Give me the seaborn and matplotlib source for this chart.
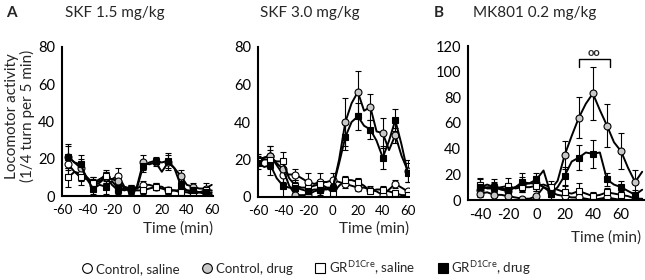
import numpy as np
import pandas as pd
import seaborn as sns
import matplotlib.pyplot as plt
from matplotlib.lines import Line2D

# time points (5-min bins)
time_a1 = list(range(-55, 61, 5))
time_a2 = list(range(-60, 61, 5))
time_b = list(range(-40, 76, 5))

groups = ['Control, saline', 'Control, drug', 'GR saline', 'GR drug']

# SKF 1.5 mg/kg
a1_ctrl_sal = [17, 13, 12, 10, 6, 7, 10, 9, 11, 5, 4, 4, 6, 6, 5, 5, 3, 3, 3, 3, 2, 2, 1, 2]
a1_ctrl_drug = [21, 18, 15, 10, 7, 8, 10, 9, 8, 4, 3, 5, 18, 17, 18, 13, 18, 15, 11, 6, 5, 4, 4, 6]
a1_gr_sal = [10, 13, 10, 9, 7, 9, 11, 6, 3, 4, 3, 3, 3, 4, 5, 4, 3, 3, 2, 2, 1, 2, 3, 3]
a1_gr_drug = [21, 18, 17, 9, 4, 6, 5, 8, 4, 3, 4, 4, 16, 18, 19, 18, 19, 15, 6, 3, 3, 2, 2, 1]
a1_err = {
    'Control, saline': [5, 4, 3, 3, 4, 2, 2, 2, 2, 2, 1, 2],
    'Control, drug': [6, 5, 3, 3, 4, 2, 4, 2, 4, 3, 2, 3],
    'GR saline': [5, 4, 3, 3, 3, 2, 2, 2, 2, 2, 1, 2],
    'GR drug': [7, 5, 3, 4, 3, 2, 3, 2, 4, 3, 2, 2],
}

# SKF 3.0 mg/kg
a2_ctrl_sal = [20, 21, 22, 17, 12, 12, 12, 10, 8, 7, 8, 8, 9, 8, 7, 6, 5, 5, 4, 3, 1, 4, 7, 5, 3]
a2_ctrl_drug = [20, 21, 22, 18, 15, 6, 1, 1, 1, 3, 4, 4, 5, 20, 40, 50, 56, 46, 48, 35, 34, 25, 33, 22, 14]
a2_gr_sal = [19, 20, 20, 19, 19, 10, 6, 5, 5, 6, 7, 5, 2, 6, 9, 9, 8, 6, 3, 4, 4, 3, 2, 1, 1]
a2_gr_drug = [18, 16, 17, 10, 6, 5, 5, 4, 3, 4, 4, 5, 5, 18, 32, 40, 43, 38, 36, 30, 21, 30, 41, 28, 13]
a2_err = {
    'Control, saline': [2, 5, 4, 3, 5, 5, 4, 2, 2, 2, 3, 2, 1],
    'Control, drug': [3, 5, 4, 2, 1, 1, 2, 13, 11, 7, 8, 4, 6],
    'GR saline': [2, 5, 5, 3, 2, 2, 2, 2, 2, 1, 2, 1, 1],
    'GR drug': [3, 5, 6, 3, 3, 3, 3, 7, 7, 5, 6, 6, 5],
}

# MK801 0.2 mg/kg
b_ctrl_sal = [8, 10, 10, 8, 7, 10, 12, 13, 13, 10, 6, 4, 3, 2, 2, 1, 0, 1, 2, 1, 0, 0, 0, 0]
b_ctrl_drug = [5, 6, 4, 4, 3, 2, 1, 1, 3, 10, 8, 15, 35, 50, 64, 75, 83, 70, 58, 45, 38, 25, 14, 22]
b_gr_sal = [12, 9, 9, 10, 11, 9, 10, 10, 11, 12, 10, 8, 6, 5, 7, 5, 3, 4, 6, 5, 4, 3, 1, 1]
b_gr_drug = [10, 12, 10, 9, 8, 10, 14, 13, 16, 23, 5, 10, 19, 30, 33, 37, 36, 37, 16, 12, 10, 7, 4, 8]
b_err = {
    'Control, saline': [5, 4, 4, 6, 6, 4, 3, 3, 3, 2, 2, 1],
    'Control, drug': [3, 2, 3, 1, 2, 3, 11, 16, 21, 17, 14, 9],
    'GR saline': [5, 4, 6, 4, 4, 5, 5, 6, 3, 3, 3, 2],
    'GR drug': [6, 6, 5, 7, 5, 4, 7, 10, 11, 5, 5, 4],
}

styles = {
    'Control, saline': dict(marker='o', mfc='white'),
    'Control, drug': dict(marker='o', mfc='#c8c8c8'),
    'GR saline': dict(marker='s', mfc='white'),
    'GR drug': dict(marker='s', mfc='black'),
}


def make_df(t, series):
    rows = []
    for g, vals in zip(groups, series):
        for x, v in zip(t, vals):
            rows.append((x, v, g))
    return pd.DataFrame(rows, columns=['time', 'activity', 'group'])


sns.set_style('white')
plt.rcParams['font.family'] = ['Lato', 'DejaVu Sans']
plt.rcParams['axes.unicode_minus'] = False
plt.rcParams['mathtext.fontset'] = 'custom'
plt.rcParams['mathtext.rm'] = 'Lato'

fig = plt.figure(figsize=(6.45, 2.8), dpi=100)
W, H = 645, 280
FS = 11


def add_ax(l, r, top, bot):
    return fig.add_axes([l / W, 1 - bot / H, (r - l) / W, (bot - top) / H])


panels = [
    (add_ax(62, 213, 47, 196), make_df(time_a1, [a1_ctrl_sal, a1_ctrl_drug, a1_gr_sal, a1_gr_drug]), a1_err,
     (-60, 61), 80, range(-60, 61, 20)),
    (add_ax(258, 409, 47, 197), make_df(time_a2, [a2_ctrl_sal, a2_ctrl_drug, a2_gr_sal, a2_gr_drug]), a2_err,
     (-60, 61), 80, range(-60, 61, 20)),
    (add_ax(468, 645, 46, 200), make_df(time_b, [b_ctrl_sal, b_ctrl_drug, b_gr_sal, b_gr_drug]), b_err,
     (-48.6, 77), 120, range(-40, 61, 20)),
]

for ax, df, errs, xlim, ymax, xt in panels:
    for g in groups:
        sub = df[df.group == g]
        mk = sub.iloc[::2]
        ax.errorbar(mk.time, mk.activity, yerr=errs[g], fmt='none', ecolor='black',
                    elinewidth=0.8, capsize=2, capthick=0.8, zorder=1)
        sns.lineplot(data=sub, x='time', y='activity', ax=ax, color='black', lw=1.4,
                     marker=styles[g]['marker'], markerfacecolor=styles[g]['mfc'],
                     markeredgecolor='black', markeredgewidth=0.8, markersize=5,
                     markevery=2, zorder=2, errorbar=None)
    ax.set_xlim(*xlim)
    ax.set_ylim(0, ymax)
    ax.set_xticks(list(xt))
    ax.set_yticks(range(0, ymax + 1, 20))
    sns.despine(ax=ax)
    for s in ['left', 'bottom']:
        ax.spines[s].set_linewidth(1.5)
        ax.spines[s].set_color('black')
    ax.tick_params(direction='out', length=3, width=1, labelsize=10.5, colors='black', pad=2)
    ax.tick_params(axis='x', labelsize=9.5, pad=3)
    ax.set_xlabel('')
    ax.set_ylabel('')

ax1, ax2, ax3 = [p[0] for p in panels]
ax3.tick_params(axis='x', labelsize=10.5)

# titles and panel letters
fig.text(65 / W, 1 - 13 / H, 'SKF 1.5 mg/kg', fontsize=FS, va='center')
fig.text(260 / W, 1 - 13 / H, 'SKF 3.0 mg/kg', fontsize=FS, va='center')
fig.text(473 / W, 1 - 13 / H, 'MK801 0.2 mg/kg', fontsize=FS, va='center')
fig.text(6 / W, 1 - 13 / H, 'A', fontsize=FS, fontweight='bold', va='center')
fig.text(434 / W, 1 - 13 / H, 'B', fontsize=FS, fontweight='bold', va='center')

# axis labels
fig.text(20 / W, 1 - 116 / H, 'Locomotor activity\n(1/4 turn per 5 min)', fontsize=FS,
         rotation=90, ha='center', va='center', linespacing=1.15)
fig.text(213 / W, 1 - 229 / H, 'Time (min)', fontsize=FS, ha='right', va='center')
fig.text(409 / W, 1 - 229 / H, 'Time (min)', fontsize=FS, ha='right', va='center')
fig.text(641 / W, 1 - 238 / H, 'Time (min)', fontsize=FS, ha='right', va='center')

# significance bracket
ax3.plot([30, 30, 52, 52], [104, 110, 110, 104], color='black', lw=1)
ax3.text(41, 111, 'oo', fontsize=8, fontweight='bold', ha='center', va='bottom', clip_on=False)

# legend
handles = [Line2D([], [], ls='none', marker=styles[g]['marker'], markerfacecolor=styles[g]['mfc'],
                  markeredgecolor='black', markeredgewidth=0.8, markersize=7) for g in groups]
labels = ['Control, saline', 'Control, drug', r'GR$^{\mathregular{D1Cre}}$, saline',
          r'GR$^{\mathregular{D1Cre}}$, drug']
fig.legend(handles, labels, loc='center', bbox_to_anchor=(306 / W, 1 - 268 / H), ncol=4,
           frameon=False, fontsize=9.5, handletextpad=0.15, columnspacing=1.6, handlelength=1.0)

fig.savefig('out.png', dpi=100)
